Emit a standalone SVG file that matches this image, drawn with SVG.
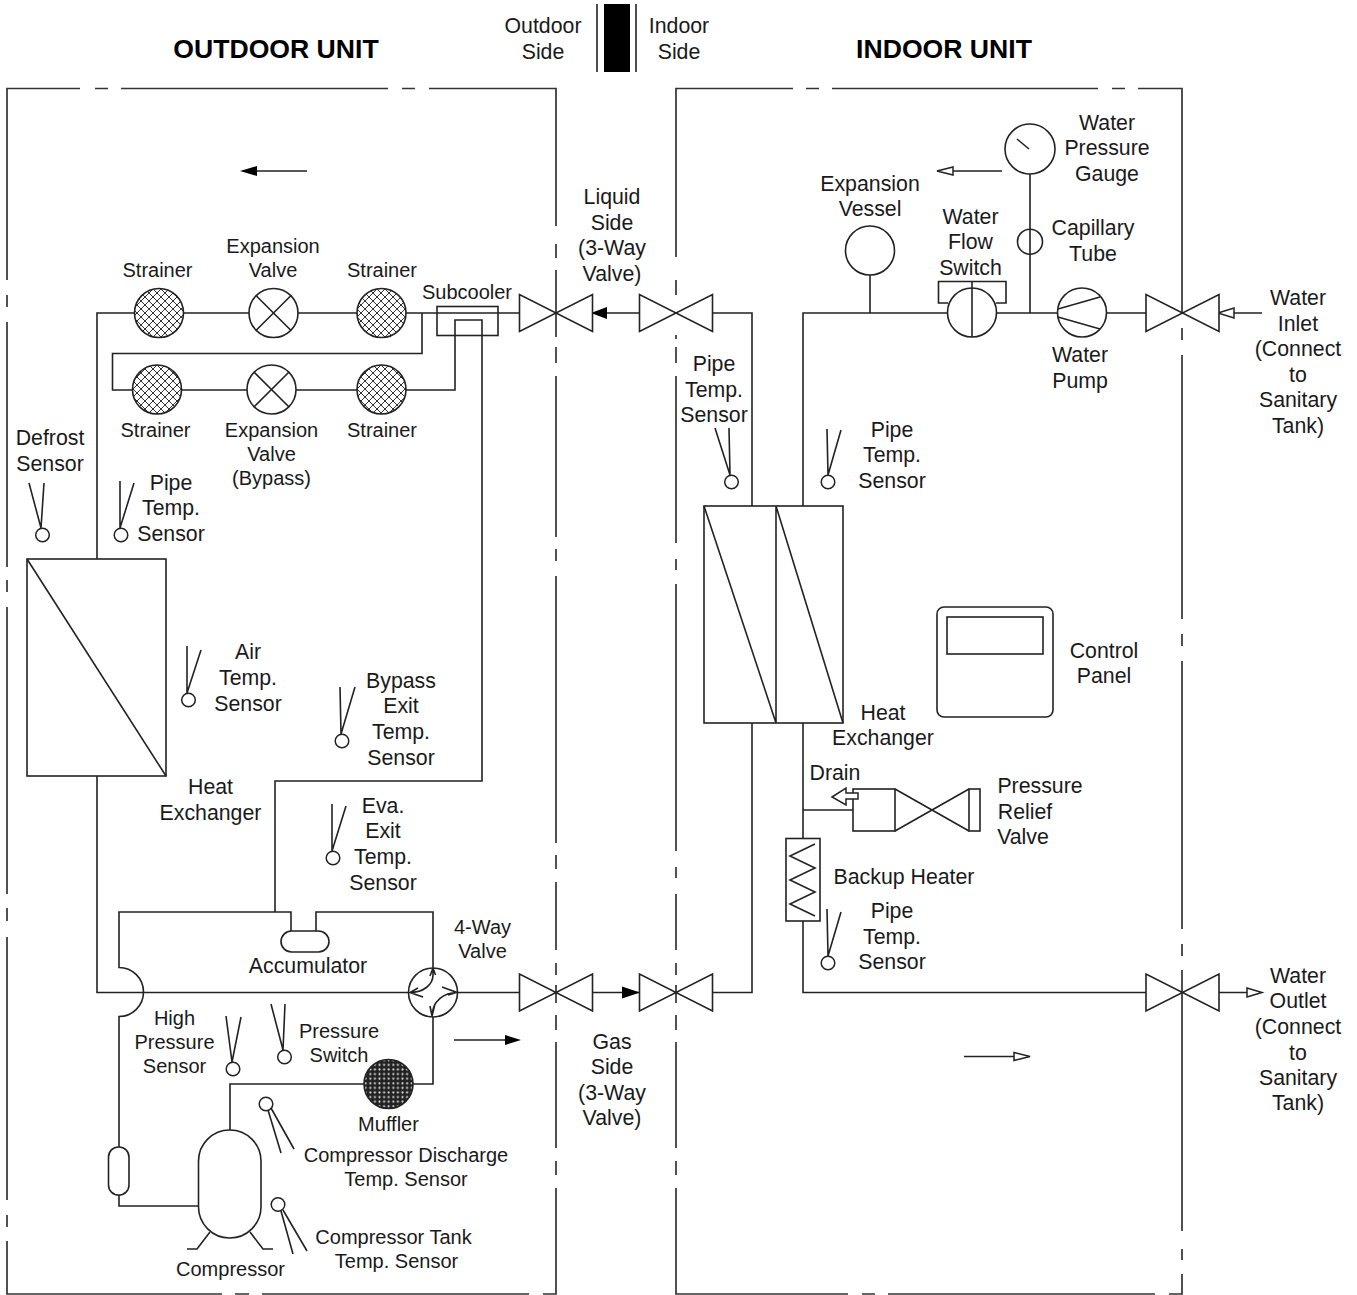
<svg xmlns="http://www.w3.org/2000/svg" width="1357" height="1295" viewBox="0 0 1357 1295">
<style>
text{font-family:"Liberation Sans",Arial,sans-serif;fill:#1a1a1a;text-anchor:middle}
.a{font-size:20px}.b{font-size:21.3px}
.h{font-size:26.6px;font-weight:bold;fill:#000}
.s{fill:none;stroke:#222;stroke-width:1.6}
.w{fill:#fff;stroke:#222;stroke-width:1.6}
.o{fill:none;stroke:#333;stroke-width:1.7}
.k{fill:#000}
.t{fill:#fff;stroke:#222;stroke-width:1.5}
.st{fill:url(#hatch);stroke:#222;stroke-width:1.6}
</style>
<defs>
<pattern id="hatch" width="8" height="8" patternUnits="userSpaceOnUse" patternTransform="translate(1 1)">
<rect width="8" height="8" fill="#fff"/>
<path d="M0 0L8 8M8 0L0 8" stroke="#333" stroke-width="1" fill="none"/>
</pattern>
<pattern id="dense" width="4.6" height="4.6" patternUnits="userSpaceOnUse">
<rect width="4.6" height="4.6" fill="#222"/>
<circle cx="2.3" cy="2.3" r="1.05" fill="#ddd"/>
</pattern>
<g id="sv"><path class="w" d="M-36.5-18.5V18.5L36.5-18.5V18.5Z"/></g>
</defs>
<rect width="1357" height="1295" fill="#fff"/>

<g id="frames">
<path class="o" d="M80 88.5H7V280M7 295V307M7 322V567M7 580V592M7 607V894M7 908V921M7 937V1200M7 1215V1227M7 1241V1294H222M235 1294H249M262 1294H529M543 1294H556V1188M556 1175V1161M556 1148V1042M556 1030V1015M556 1003V985M556 975V963M556 950V882M556 869V855M556 843V576M556 561V549M556 537V376M556 363V347M556 337V270M556 258V244M556 226V88.5H429M415 88.5H402M388 88.5H121M108 88.5H95"/>
<path class="o" d="M793 88.5H676V257M676 280V295M676 335V339M676 347V363M676 376V543M676 559V570M676 584V851M676 867V878M676 894V950M676 963V975M676 985V1003M676 1015V1030M676 1042V1148M676 1161V1175M676 1188V1294H848M862 1294H875M888 1294H1155M1169 1294H1182V1274M1182 1260V1249M1182 1231V970M1182 956V944M1182 929V661M1182 646V634M1182 619V355M1182 340V328M1182 313V88.5H1138M1125 88.5H1112M1098 88.5H832M819 88.5H806"/>
</g>

<g id="connectors">
<path class="s" d="M97 559V313H520"/>
<path class="s" d="M422 313V353.5H112.5V390H455V320H482V781H275V912"/>
<path class="s" d="M97 776V992.5H408"/>
<path class="s" d="M291 931V912H119V967.500A24.500 24.500 0 0 1 119 1016.500V1206H198"/>
<path class="s" d="M316 931V912H433V967"/>
<path class="s" d="M433 1017V1084H230V1130"/>
<path class="s" d="M458 992.500H520"/>
<path class="s" d="M592 313H640M592 992.500H640"/>
<path class="s" d="M712 313H752V506M752 723V992.500H712"/>
<path class="s" d="M1146 313H803V506M803 723V838M803 921V992.500H1146"/>
<path class="s" d="M803 810H853"/>
<path class="s" d="M870 275V313M1030 174V313"/>
<path class="k" d="M591 313L607 307V319ZM640 992.500L622 986.500V998.500Z"/>
<path class="s" d="M1262 313H1234M1219 992.500H1247M307 171H257M454 1040H505M1002 171H953M964 1056.500H1014"/>
<path class="k" d="M240 171L257 166V176ZM521 1040L505 1035V1045Z"/>
<path class="t" d="M937 171L953 167V175ZM1218 313L1234 308V318ZM1262 992.500L1247 988V997ZM1030 1056.500L1014 1052.500V1060.500Z"/>
</g>

<g id="valve-liquid-outdoor"><use href="#sv" x="556" y="313"/></g>
<g id="valve-liquid-indoor"><use href="#sv" x="676" y="313"/></g>
<g id="valve-gas-outdoor"><use href="#sv" x="556" y="992.500"/></g>
<g id="valve-gas-indoor"><use href="#sv" x="676" y="992.500"/></g>
<g id="valve-water-inlet"><use href="#sv" x="1182.500" y="313"/></g>
<g id="valve-water-outlet"><use href="#sv" x="1182.500" y="992.500"/></g>

<g id="strainer-1"><circle class="st" cx="159" cy="313" r="24.500"/></g>
<g id="expansion-valve"><circle class="w" cx="273.500" cy="313" r="24.500"/><path class="s" d="M256.200 295.700L290.800 330.300M290.800 295.700L256.200 330.300"/></g>
<g id="strainer-2"><circle class="st" cx="381.500" cy="313" r="24.500"/></g>
<g id="strainer-3"><circle class="st" cx="157" cy="389.500" r="24.500"/></g>
<g id="expansion-valve-bypass"><circle class="w" cx="271.500" cy="389.500" r="24.500"/><path class="s" d="M254.200 372.200L288.800 406.800M288.800 372.200L254.200 406.800"/></g>
<g id="strainer-4"><circle class="st" cx="381.500" cy="389.500" r="24.500"/></g>
<g id="subcooler"><rect class="s" x="437" y="306.500" width="61" height="29"/></g>

<g id="heat-exchanger-outdoor"><rect class="w" x="27" y="559" width="139" height="217"/><path class="s" d="M27 559L166 776"/></g>
<g id="accumulator"><rect class="w" x="281" y="931" width="48" height="21" rx="10.500"/></g>
<g id="four-way-valve"><circle class="w" cx="433" cy="992.500" r="24.500"/><path class="s" d="M433 968V975C433 985 423 992.500 410 992.500M418 988L410 992.500L423 997M430 976L433 968L435.500 975"/><path class="s" d="M457 992.500C445 992.500 432 1000 432 1017M442 987L457 992.500L448 995M430 1006L432 1016L435 1004"/></g>
<g id="muffler"><circle cx="388.500" cy="1084" r="24.500" fill="url(#dense)" stroke="#222" stroke-width="1.6"/></g>
<g id="tube"><rect class="w" x="108.500" y="1147" width="20.500" height="48" rx="10"/></g>
<g id="compressor"><rect class="w" x="198.500" y="1130" width="62.500" height="108" rx="31.200"/><path class="s" d="M210 1232L197 1249H187M250 1232L263 1249H273"/></g>

<g id="heat-exchanger-indoor"><rect class="w" x="704" y="506" width="139" height="217"/><path class="s" d="M776 506V723M704 506L776 723M776 506L843 723"/></g>
<g id="control-panel"><rect class="w" x="937" y="607" width="116" height="110" rx="7"/><rect class="s" x="947" y="617" width="96" height="37"/></g>
<g id="expansion-vessel"><circle class="w" cx="870" cy="250.500" r="24.500"/></g>
<g id="water-flow-switch"><path class="s" d="M948 303H938.500V281.500H1006V303H996"/><circle class="w" cx="972" cy="312.500" r="24.500"/><path class="s" d="M972 281.500V337"/></g>
<g id="water-pressure-gauge"><circle class="w" cx="1030" cy="149" r="25"/><path class="s" d="M1017 139L1029 149"/></g>
<g id="capillary-tube"><circle class="s" cx="1030" cy="241.700" r="12.500"/></g>
<g id="water-pump"><circle class="w" cx="1082" cy="312.500" r="24.500"/><path class="s" d="M1058 309L1100 297M1058 317L1100 329"/></g>
<g id="pressure-relief-valve"><rect class="w" x="853" y="789" width="42" height="42"/><path class="s" d="M895 789L969 831M895 831L969 789"/><rect class="w" x="969" y="789" width="11" height="42"/><path class="t" d="M832 797L846 788V793H858V799H846V805Z"/></g>
<g id="backup-heater"><rect class="w" x="786" y="838.500" width="34" height="82.500"/><path class="s" d="M815 844L790 856L815 868L790 880L815 892L790 904L815 916"/></g>

<g id="sensor-defrost"><circle class="t" cx="42.500" cy="535" r="6.800"/><path class="s" d="M29 483L41 528L44 483"/></g>
<g id="sensor-pipe-1"><circle class="t" cx="121" cy="535" r="6.800"/><path class="s" d="M120 481L120 528L134 483"/></g>
<g id="sensor-air"><circle class="t" cx="188.500" cy="700" r="6.800"/><path class="s" d="M187 646L187 693L201 650"/></g>
<g id="sensor-bypass"><circle class="t" cx="342" cy="741" r="6.800"/><path class="s" d="M340 687L341 734L355 687"/></g>
<g id="sensor-eva"><circle class="t" cx="333" cy="858" r="6.800"/><path class="s" d="M332 804L332 851L346 806"/></g>
<g id="sensor-high-pressure"><circle class="t" cx="233" cy="1069" r="6.800"/><path class="s" d="M226 1016L232 1062L241 1017"/></g>
<g id="sensor-pressure-switch"><circle class="t" cx="284.500" cy="1057" r="6.800"/><path class="s" d="M271 1004L283 1050L285 1004"/></g>
<g id="sensor-discharge"><circle class="t" cx="266" cy="1104" r="6.800"/><path class="s" d="M268 1110L281 1153M271 1108L294 1149"/></g>
<g id="sensor-tank"><circle class="t" cx="278" cy="1204.500" r="6.800"/><path class="s" d="M281 1211L293 1254M283 1210L307 1251"/></g>
<g id="sensor-pipe-2"><circle class="t" cx="731.500" cy="482" r="6.800"/><path class="s" d="M715 428L730 475L729 428"/></g>
<g id="sensor-pipe-3"><circle class="t" cx="828" cy="482" r="6.800"/><path class="s" d="M827 429L828 475L841 430"/></g>
<g id="sensor-pipe-4"><circle class="t" cx="828" cy="963" r="6.800"/><path class="s" d="M827 909L828 956L841 912"/></g>

<g id="side-marker"><rect x="604" y="4" width="26" height="68" fill="#000"/><path class="s" d="M597 4V72M636 4V72"/></g>

<g id="labels">
<text class="h" x="276" y="58">OUTDOOR UNIT</text>
<text class="h" x="944" y="58">INDOOR UNIT</text>
<text class="b" x="543" y="33">Outdoor</text><text class="b" x="543" y="59">Side</text>
<text class="b" x="679" y="33">Indoor</text><text class="b" x="679" y="59">Side</text>
<text class="a" x="157.500" y="277">Strainer</text>
<text class="a" x="273" y="253">Expansion</text><text class="a" x="273" y="277">Valve</text>
<text class="a" x="382" y="277">Strainer</text>
<text class="a" x="467" y="299">Subcooler</text>
<text class="b" x="612" y="204">Liquid</text><text class="b" x="612" y="230">Side</text><text class="b" x="612" y="255">(3-Way</text><text class="b" x="612" y="281">Valve)</text>
<text class="a" x="155.500" y="437">Strainer</text>
<text class="a" x="271.500" y="437">Expansion</text><text class="a" x="271.500" y="461">Valve</text><text class="a" x="271.500" y="485">(Bypass)</text>
<text class="a" x="382" y="437">Strainer</text>
<text class="b" x="50" y="445">Defrost</text><text class="b" x="50" y="471">Sensor</text>
<text class="b" x="171" y="490">Pipe</text><text class="b" x="171" y="515">Temp.</text><text class="b" x="171" y="541">Sensor</text>
<text class="b" x="248" y="659">Air</text><text class="b" x="248" y="685">Temp.</text><text class="b" x="248" y="711">Sensor</text>
<text class="b" x="401" y="688">Bypass</text><text class="b" x="401" y="713">Exit</text><text class="b" x="401" y="739">Temp.</text><text class="b" x="401" y="765">Sensor</text>
<text class="b" x="210.500" y="794">Heat</text><text class="b" x="210.500" y="820">Exchanger</text>
<text class="b" x="383" y="813">Eva.</text><text class="b" x="383" y="838">Exit</text><text class="b" x="383" y="864">Temp.</text><text class="b" x="383" y="890">Sensor</text>
<text class="a" x="482.500" y="934">4-Way</text><text class="a" x="482.500" y="958">Valve</text>
<text class="b" x="308" y="973">Accumulator</text>
<text class="a" x="174.500" y="1025">High</text><text class="a" x="174.500" y="1049">Pressure</text><text class="a" x="174.500" y="1073">Sensor</text>
<text class="a" x="339" y="1038">Pressure</text><text class="a" x="339" y="1062">Switch</text>
<text class="a" x="388.500" y="1131">Muffler</text>
<text class="a" x="406" y="1162">Compressor Discharge</text><text class="a" x="406" y="1186">Temp. Sensor</text>
<text class="a" x="393.500" y="1244">Compressor Tank</text><text class="a" x="396.500" y="1268">Temp. Sensor</text>
<text class="a" x="230.500" y="1276">Compressor</text>
<text class="b" x="612" y="1049">Gas</text><text class="b" x="612" y="1074">Side</text><text class="b" x="612" y="1100">(3-Way</text><text class="b" x="612" y="1125">Valve)</text>
<text class="b" x="714" y="371">Pipe</text><text class="b" x="714" y="397">Temp.</text><text class="b" x="714" y="422">Sensor</text>
<text class="b" x="870" y="191">Expansion</text><text class="b" x="870" y="216">Vessel</text>
<text class="b" x="970.500" y="224">Water</text><text class="b" x="970.500" y="249">Flow</text><text class="b" x="970.500" y="275">Switch</text>
<text class="b" x="1107" y="130">Water</text><text class="b" x="1107" y="155">Pressure</text><text class="b" x="1107" y="181">Gauge</text>
<text class="b" x="1093" y="235">Capillary</text><text class="b" x="1093" y="261">Tube</text>
<text class="b" x="1080" y="362">Water</text><text class="b" x="1080" y="388">Pump</text>
<text class="b" x="1298" y="305">Water</text><text class="b" x="1298" y="331">Inlet</text><text class="b" x="1298" y="356">(Connect</text><text class="b" x="1298" y="382">to</text><text class="b" x="1298" y="407">Sanitary</text><text class="b" x="1298" y="433">Tank)</text>
<text class="b" x="892" y="437">Pipe</text><text class="b" x="892" y="462">Temp.</text><text class="b" x="892" y="488">Sensor</text>
<text class="b" x="1104" y="658">Control</text><text class="b" x="1104" y="683">Panel</text>
<text class="b" x="883" y="720">Heat</text><text class="b" x="883" y="745">Exchanger</text>
<text class="b" x="835" y="780">Drain</text>
<text class="b" x="1040" y="793">Pressure</text><text class="b" x="1025" y="819">Relief</text><text class="b" x="1023" y="844">Valve</text>
<text class="b" x="904" y="884">Backup Heater</text>
<text class="b" x="892" y="918">Pipe</text><text class="b" x="892" y="944">Temp.</text><text class="b" x="892" y="969">Sensor</text>
<text class="b" x="1298" y="983">Water</text><text class="b" x="1298" y="1008">Outlet</text><text class="b" x="1298" y="1034">(Connect</text><text class="b" x="1298" y="1060">to</text><text class="b" x="1298" y="1085">Sanitary</text><text class="b" x="1298" y="1110">Tank)</text>
</g>
</svg>
